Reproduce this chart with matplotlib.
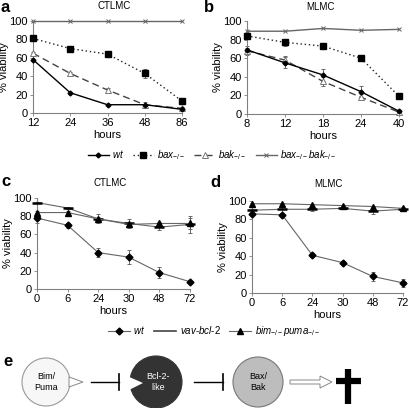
import matplotlib
matplotlib.use("Agg")
import matplotlib.pyplot as plt
from matplotlib.lines import Line2D
from matplotlib.patches import Circle, Polygon, FancyArrow

plt.rcParams["font.family"] = ["Liberation Sans", "DejaVu Sans"]
plt.rcParams["mathtext.fontset"] = "custom"
plt.rcParams["mathtext.it"] = "Liberation Sans:italic"
plt.rcParams["mathtext.rm"] = "Liberation Sans"

# panel a: CTLMC, knockouts
a_hours = ["12", "24", "36", "48", "86"]
a_wt = [58, 22, 9, 9, 4]
a_bax = [81, 70, 64, 43, 13]
a_bax_err = [2, 1, 2, 5, 2]
a_bak = [65, 43, 25, 9, 5]
a_bak_err = [1, 2, 2, 3, 1]
a_dko = [100, 100, 100, 100, 100]

# panel b: MLMC, knockouts
b_hours = ["8", "12", "18", "24", "40"]
b_wt = [69, 55, 42, 24, 3]
b_wt_err = [2, 6, 6, 6, 1]
b_bax = [84, 77, 73, 60, 19]
b_bax_err = [2, 4, 3, 2, 2]
b_bak = [68, 58, 35, 18, 2]
b_bak_err = [5, 4, 5, 3, 1]
b_dko = [89, 89, 92, 90, 91]

# panels c, d: time course for wt, vav-bcl-2, bim/puma
cd_hours = ["0", "6", "24", "30", "48", "72"]
c_wt = [78, 70, 40, 35, 18, 8]
c_wt_err = [6, 3, 5, 8, 6, 1]
c_vav = [95, 89, 77, 72, 68, 71]
c_vav_err = [1, 1, 5, 5, 3, 9]
c_bim = [84, 84, 77, 71, 72, 72]
c_bim_err = [2, 2, 2, 2, 2, 6]

d_wt = [86, 85, 41, 33, 18, 11]
d_wt_err = [2, 2, 2, 2, 5, 4]
d_vav = [90, 91, 91, 92, 89, 91]
d_vav_err = [5, 5, 2, 1, 3, 1]
d_bim = [97, 97, 96, 95, 94, 92]
d_bim_err = [1, 1, 1, 1, 1, 1]

W, H = 409, 408
fig = plt.figure(figsize=(W / 100, H / 100), dpi=100)


def px_axes(left, top, right, bottom):
    return fig.add_axes([left / W, 1 - bottom / H, (right - left) / W, (bottom - top) / H])


def fig_text(x, y, s, **kw):
    fig.text(x / W, 1 - y / H, s, ha="center", va="center", **kw)


def style_axes(ax, labels):
    ax.set_xlim(0, len(labels) - 1)
    ax.set_ylim(0, 100)
    ax.set_xticks(range(len(labels)))
    ax.set_xticklabels(labels)
    ax.set_yticks(range(0, 101, 20))
    for side in ("top", "right"):
        ax.spines[side].set_visible(False)
    for side in ("left", "bottom"):
        ax.spines[side].set_color("#808080")
        ax.spines[side].set_linewidth(0.8)
    ax.tick_params(labelsize=8, length=2.5, width=0.6, color="#808080", pad=1.2)
    ax.set_ylabel("% viability", fontsize=8, labelpad=0)
    ax.set_xlabel("hours", fontsize=8, labelpad=1)


def series(ax, y, err=None, **kw):
    x = range(len(y))
    kw.setdefault("clip_on", False)
    if err is not None:
        ax.errorbar(x, y, yerr=err, fmt="none", ecolor="#555555", elinewidth=0.6,
                    capsize=1.5, capthick=0.6, clip_on=False, zorder=2)
    return ax.plot(x, y, zorder=3, **kw)[0]


# ---- panel a
ax_a = px_axes(33, 21, 182, 113)
style_axes(ax_a, a_hours)
h_dko = series(ax_a, a_dko, color="#666666", lw=1, marker="x", ms=3, mew=0.7)
h_bax = series(ax_a, a_bax, a_bax_err, color="#222222", lw=1, ls=(0, (1, 2)),
               marker="s", ms=4, mfc="black", mec="black")
h_bak = series(ax_a, a_bak, a_bak_err, color="#444444", lw=1, ls=(0, (5, 3)),
               marker="^", ms=4, mfc="white", mec="#777777", mew=0.7)
h_wt = series(ax_a, a_wt, color="black", lw=1, marker="D", ms=2.5)

# ---- panel b
ax_b = px_axes(247, 21, 399, 114)
style_axes(ax_b, b_hours)
series(ax_b, b_dko, color="#666666", lw=1, marker="x", ms=3, mew=0.7)
series(ax_b, b_bax, b_bax_err, color="#222222", lw=1, ls=(0, (1, 2)),
       marker="s", ms=4, mfc="black", mec="black")
series(ax_b, b_bak, b_bak_err, color="#444444", lw=1, ls=(0, (5, 3)),
       marker="^", ms=4, mfc="white", mec="#777777", mew=0.7)
series(ax_b, b_wt, b_wt_err, color="black", lw=1, marker="D", ms=2.5)

fig.legend([h_wt, h_bax, h_bak, h_dko],
           [r"$wt$", r"$bax_{-/-}$", r"$bak_{-/-}$", r"$bax_{-/-}bak_{-/-}$"],
           loc="center", bbox_to_anchor=(212 / W, 1 - 155 / H), ncol=4,
           frameon=False, fontsize=7, handlelength=2.2, handletextpad=0.3,
           columnspacing=0.9)

# ---- panel c
ax_c = px_axes(37, 198, 190, 289)
style_axes(ax_c, cd_hours)
series(ax_c, c_wt, c_wt_err, color="#666666", lw=0.8, marker="D", ms=3.5,
       mfc="black", mec="black")
series(ax_c, c_vav, c_vav_err, color="#666666", lw=0.8, marker="_", ms=7,
       mec="black", mew=1.8)
series(ax_c, c_bim, c_bim_err, color="#666666", lw=0.8, marker="^", ms=4,
       mfc="black", mec="black")

# ---- panel d
ax_d = px_axes(252, 201, 403, 293)
style_axes(ax_d, cd_hours)
series(ax_d, d_wt, d_wt_err, color="#666666", lw=0.8, marker="D", ms=3.5,
       mfc="black", mec="black")
series(ax_d, d_vav, d_vav_err, color="#666666", lw=0.8, marker="_", ms=7,
       mec="black", mew=1.8)
series(ax_d, d_bim, d_bim_err, color="#666666", lw=0.8, marker="^", ms=4,
       mfc="black", mec="black")

leg_handles = [Line2D([], [], color="#666666", lw=0.8, marker="D", ms=3.5, mfc="black", mec="black"),
               Line2D([], [], color="#444444", lw=1.2),
               Line2D([], [], color="#666666", lw=0.8, marker="^", ms=4.5, mfc="black", mec="black")]
fig.legend(leg_handles, [r"$wt$", r"$vav$-$bcl$-2", r"$bim_{-/-}puma_{-/-}$"],
           loc="center", bbox_to_anchor=(214 / W, 1 - 331 / H), ncol=3,
           frameon=False, fontsize=7, handlelength=2.2, handletextpad=0.4,
           columnspacing=0.9)

# panel letters and titles
for letter, x, y in [("a", 5, 7), ("b", 209, 7), ("c", 6, 181), ("d", 215, 183), ("e", 8, 361)]:
    fig_text(x, y, letter, fontsize=12, fontweight="bold")
for title, x, y in [("CTLMC", 114, 6), ("MLMC", 320, 7), ("CTLMC", 110, 183), ("MLMC", 328, 184)]:
    fig_text(x, y, title, fontsize=7)

# ---- panel e: schematic, drawn in pixel space
ax_e = fig.add_axes([0, 0, 1, 1], zorder=-1)
ax_e.set_xlim(0, W)
ax_e.set_ylim(H, 0)
ax_e.axis("off")

cy = 382
ax_e.add_patch(Circle((46, cy), 24, fc="#f7f7f7", ec="#999999", lw=0.8))
ax_e.add_patch(Polygon([(69, cy - 5), (69, cy + 5), (83, cy)], closed=True,
                       fc="white", ec="#888888", lw=0.7))
ax_e.text(46, cy, "Bim/\nPuma", ha="center", va="center", fontsize=6.5, linespacing=1.2)

ax_e.plot([91, 119], [cy, cy], color="black", lw=1)
ax_e.plot([119, 119], [cy - 8, cy + 8], color="black", lw=1.2)

ax_e.add_patch(Circle((156, cy), 26, fc="#333333", ec="#333333", lw=0.8))
ax_e.add_patch(Polygon([(127, cy - 6), (143, cy + 1), (127, cy + 9)], closed=True,
                       fc="white", ec="white", lw=0))
ax_e.text(158, cy, "Bcl-2-\nlike", ha="center", va="center", fontsize=6.5,
          color="white", linespacing=1.2)

ax_e.plot([194, 223], [cy, cy], color="black", lw=1)
ax_e.plot([223, 223], [cy - 8, cy + 8], color="black", lw=1.2)

ax_e.add_patch(Circle((258, cy), 25, fc="#bdbdbd", ec="#777777", lw=0.8))
ax_e.text(258, cy, "Bax/\nBak", ha="center", va="center", fontsize=6.5, linespacing=1.2)

ax_e.add_patch(FancyArrow(290, cy, 30, 0, width=4, head_width=12, head_length=12,
                          length_includes_head=False, fc="white", ec="#888888", lw=0.7))

ax_e.plot([348, 348], [369, 404], color="black", lw=4.5, solid_capstyle="butt")
ax_e.plot([336, 361], [381, 381], color="black", lw=4.5, solid_capstyle="butt")

fig.savefig("out.png", dpi=100)
